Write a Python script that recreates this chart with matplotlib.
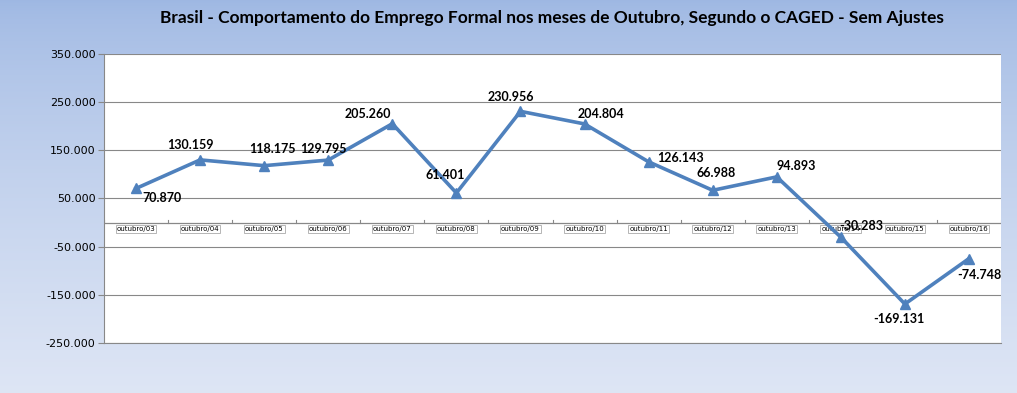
import numpy as np
import matplotlib
matplotlib.use("Agg")
from matplotlib import pyplot as plt
from matplotlib.ticker import FuncFormatter

meses = ["outubro/03", "outubro/04", "outubro/05", "outubro/06", "outubro/07",
         "outubro/08", "outubro/09", "outubro/10", "outubro/11", "outubro/12",
         "outubro/13", "outubro/14", "outubro/15", "outubro/16"]
saldo = [70870, 130159, 118175, 129795, 205260, 61401, 230956, 204804,
         126143, 66988, 94893, -30283, -169131, -74748]
yticks = [-250000, -150000, -50000, 50000, 150000, 250000, 350000]

# deslocamento dos rotulos em pixels (dx, dy para baixo)
offsets_px = [(26, 10), (-10, -15), (8, -17), (-5, -11), (-24, -10), (-11, -18),
              (-10, -14), (16, -10), (32, -4), (3, -17), (19, -11), (20, -11),
              (-6, 15), (10, 16)]

def fmt(v, pos=None):
    return f"{v:,.0f}".replace(",", ".")

fig = plt.figure(figsize=(10.17, 3.93), dpi=100)

# fundo em degrade
bg = fig.add_axes([0, 0, 1, 1], zorder=-1)
grad = np.linspace(0, 1, 256).reshape(-1, 1)
c1 = np.array([0.62, 0.72, 0.89])
c2 = np.array([0.87, 0.90, 0.96])
img = c1 + (c2 - c1) * grad[:, :, None] ** 0.7
bg.imshow(img, aspect="auto", extent=[0, 1, 0, 1])
bg.axis("off")

ax = fig.add_axes([104 / 1017, 1 - 343 / 393, 897 / 1017, 289 / 393])
ax.set_facecolor("white")
x = np.arange(len(meses))
ax.plot(x, saldo, color="#4F81BD", lw=2.6, marker="^", ms=7, zorder=3)

ax.set_xlim(-0.5, len(meses) - 0.5)
ax.set_ylim(-250000, 350000)
ax.set_yticks(yticks)
ax.yaxis.set_major_formatter(FuncFormatter(fmt))
ax.tick_params(axis="y", labelsize=8, length=4, color="#888888", pad=2)
ax.grid(axis="y", color="#888888", lw=0.8)
ax.set_axisbelow(True)
ax.set_xticks([])
for s in ["top", "right"]:
    ax.spines[s].set_visible(False)
ax.spines["left"].set_color("#888888")
ax.spines["bottom"].set_color("#888888")

# eixo zero com rotulos
ax.axhline(0, color="#888888", lw=0.9, zorder=2)
for i in range(len(meses) + 1):
    ax.plot([i - 0.5, i - 0.5], [0, 6000], color="#888888", lw=0.8, zorder=2)
for i, m in enumerate(meses):
    ax.text(i, -7000, m, ha="center", va="top", fontsize=5,
            bbox=dict(boxstyle="square,pad=0.15", fc="white", ec="#aaaaaa", lw=0.6),
            zorder=2)

for i, v in enumerate(saldo):
    dx, dy = offsets_px[i]
    ax.annotate(fmt(v), (x[i], v), xytext=(dx * 0.72, -dy * 0.72),
                textcoords="offset points", ha="center", va="center",
                fontsize=9, fontweight="bold", family="Lato", zorder=4)

fig.text(0.543, 0.954, "Brasil - Comportamento do Emprego Formal nos meses de Outubro, Segundo o CAGED - Sem Ajustes",
         ha="center", va="center", fontsize=12.5, fontweight="bold", family="Lato")

fig.savefig("out.png", dpi=100)
